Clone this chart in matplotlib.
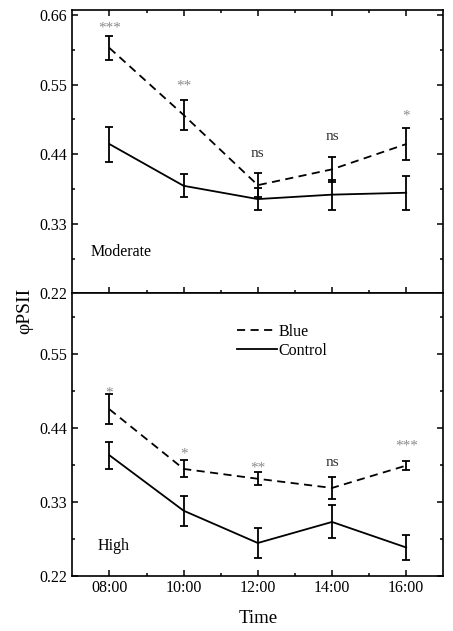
import matplotlib
matplotlib.use("Agg")
import matplotlib.pyplot as plt
from matplotlib.lines import Line2D
from matplotlib.ticker import FixedLocator, FormatStrFormatter

plt.rcParams['font.family'] = ['Liberation Serif', 'DejaVu Serif']

hours = [8, 10, 12, 14, 16]
tick_labels = ["08:00", "10:00", "12:00", "14:00", "16:00"]

# Moderate light
mod_blue = [0.608, 0.502, 0.391, 0.416, 0.456]
mod_blue_err = [0.0195, 0.0235, 0.019, 0.020, 0.0256]
mod_ctrl = [0.456, 0.390, 0.369, 0.376, 0.379]
mod_ctrl_err = [0.0277, 0.0185, 0.0174, 0.0237, 0.027]
mod_sig = ["***", "**", "ns", "ns", "*"]
mod_sig_y = [0.645, 0.553, 0.4405, 0.4674, 0.507]

# High light
high_blue = [0.468, 0.379, 0.3643, 0.3506, 0.384]
high_blue_err = [0.0224, 0.0127, 0.0097, 0.016, 0.007]
high_ctrl = [0.3994, 0.3167, 0.2685, 0.2999, 0.2618]
high_ctrl_err = [0.0204, 0.0226, 0.023, 0.0246, 0.018]
high_sig = ["*", "*", "**", "ns", "***"]
high_sig_y = [0.498, 0.4073, 0.3864, 0.3884, 0.4188]

W, H = 453, 631
fig = plt.figure(figsize=(W / 100, H / 100), dpi=100)

left = 72.3 / W
width = (443.3 - 72.3) / W
top_ax = fig.add_axes([left, 1 - 293.3 / H, width, (293.3 - 10) / H])
bot_ax = fig.add_axes([left, 1 - 575.5 / H, width, (575.5 - 293.3) / H])

dash = (4.5, 3)
lw = 1.3


def draw(ax, blue, berr, ctrl, cerr, sig, sigy):
    ax.errorbar(hours, blue, yerr=berr, color='black', lw=lw, capsize=3.2,
                capthick=1.3, elinewidth=1.3, dashes=dash)
    ax.errorbar(hours, ctrl, yerr=cerr, color='black', lw=lw, capsize=3.2,
                capthick=1.3, elinewidth=1.3)
    for x, s, y in zip(hours, sig, sigy):
        if s == 'ns':
            ax.text(x, y, s, ha='center', va='center', fontsize=11, color='#333333')
        else:
            ax.text(x, y - 0.006, s, ha='center', va='center', fontsize=11, color='#8a8a8a')
    ax.set_xlim(7, 17)
    ax.xaxis.set_major_locator(FixedLocator(hours))
    ax.xaxis.set_minor_locator(FixedLocator([9, 11, 13, 15]))
    ax.yaxis.set_major_locator(FixedLocator([0.22, 0.33, 0.44, 0.55, 0.66]))
    ax.yaxis.set_minor_locator(FixedLocator([0.275, 0.385, 0.495, 0.605]))
    ax.tick_params(which='major', direction='in', length=4.5, width=1.1, labelsize=11.5)
    ax.tick_params(which='minor', direction='in', length=2.5, width=1.1)
    ax.yaxis.set_major_formatter(FormatStrFormatter('%.2f'))
    for sp in ax.spines.values():
        sp.set_linewidth(1.2)


draw(top_ax, mod_blue, mod_blue_err, mod_ctrl, mod_ctrl_err, mod_sig, mod_sig_y)
draw(bot_ax, high_blue, high_blue_err, high_ctrl, high_ctrl_err, high_sig, high_sig_y)

top_ax.set_ylim(0.22, 0.668)
top_ax.tick_params(which='both', top=True, right=True, bottom=True, labelbottom=False)
top_ax.text(7.48, 0.2854, "Moderate", ha='left', va='center', fontsize=11.5)

bot_ax.set_ylim(0.22, 0.641)
bot_ax.tick_params(which='both', top=False, right=True)
bot_ax.set_xticklabels(tick_labels)
bot_ax.text(7.67, 0.264, "High", ha='left', va='center', fontsize=11.5)
bot_ax.set_xlabel("Time", fontsize=13.5, labelpad=10)

handles = [Line2D([], [], color='black', lw=lw, dashes=dash),
           Line2D([], [], color='black', lw=lw)]
bot_ax.legend(handles, ["Blue", "Control"], loc='upper left', bbox_to_anchor=(0.444, 0.892),
              frameon=False, borderaxespad=0, borderpad=0, handlelength=2.5,
              handletextpad=0.1, labelspacing=0.2, fontsize=11.5)

fig.text(25 / W, 1 - 311 / H, "φPSII", rotation=90, ha='center', va='center', fontsize=14)

fig.savefig("out.png", dpi=100)
